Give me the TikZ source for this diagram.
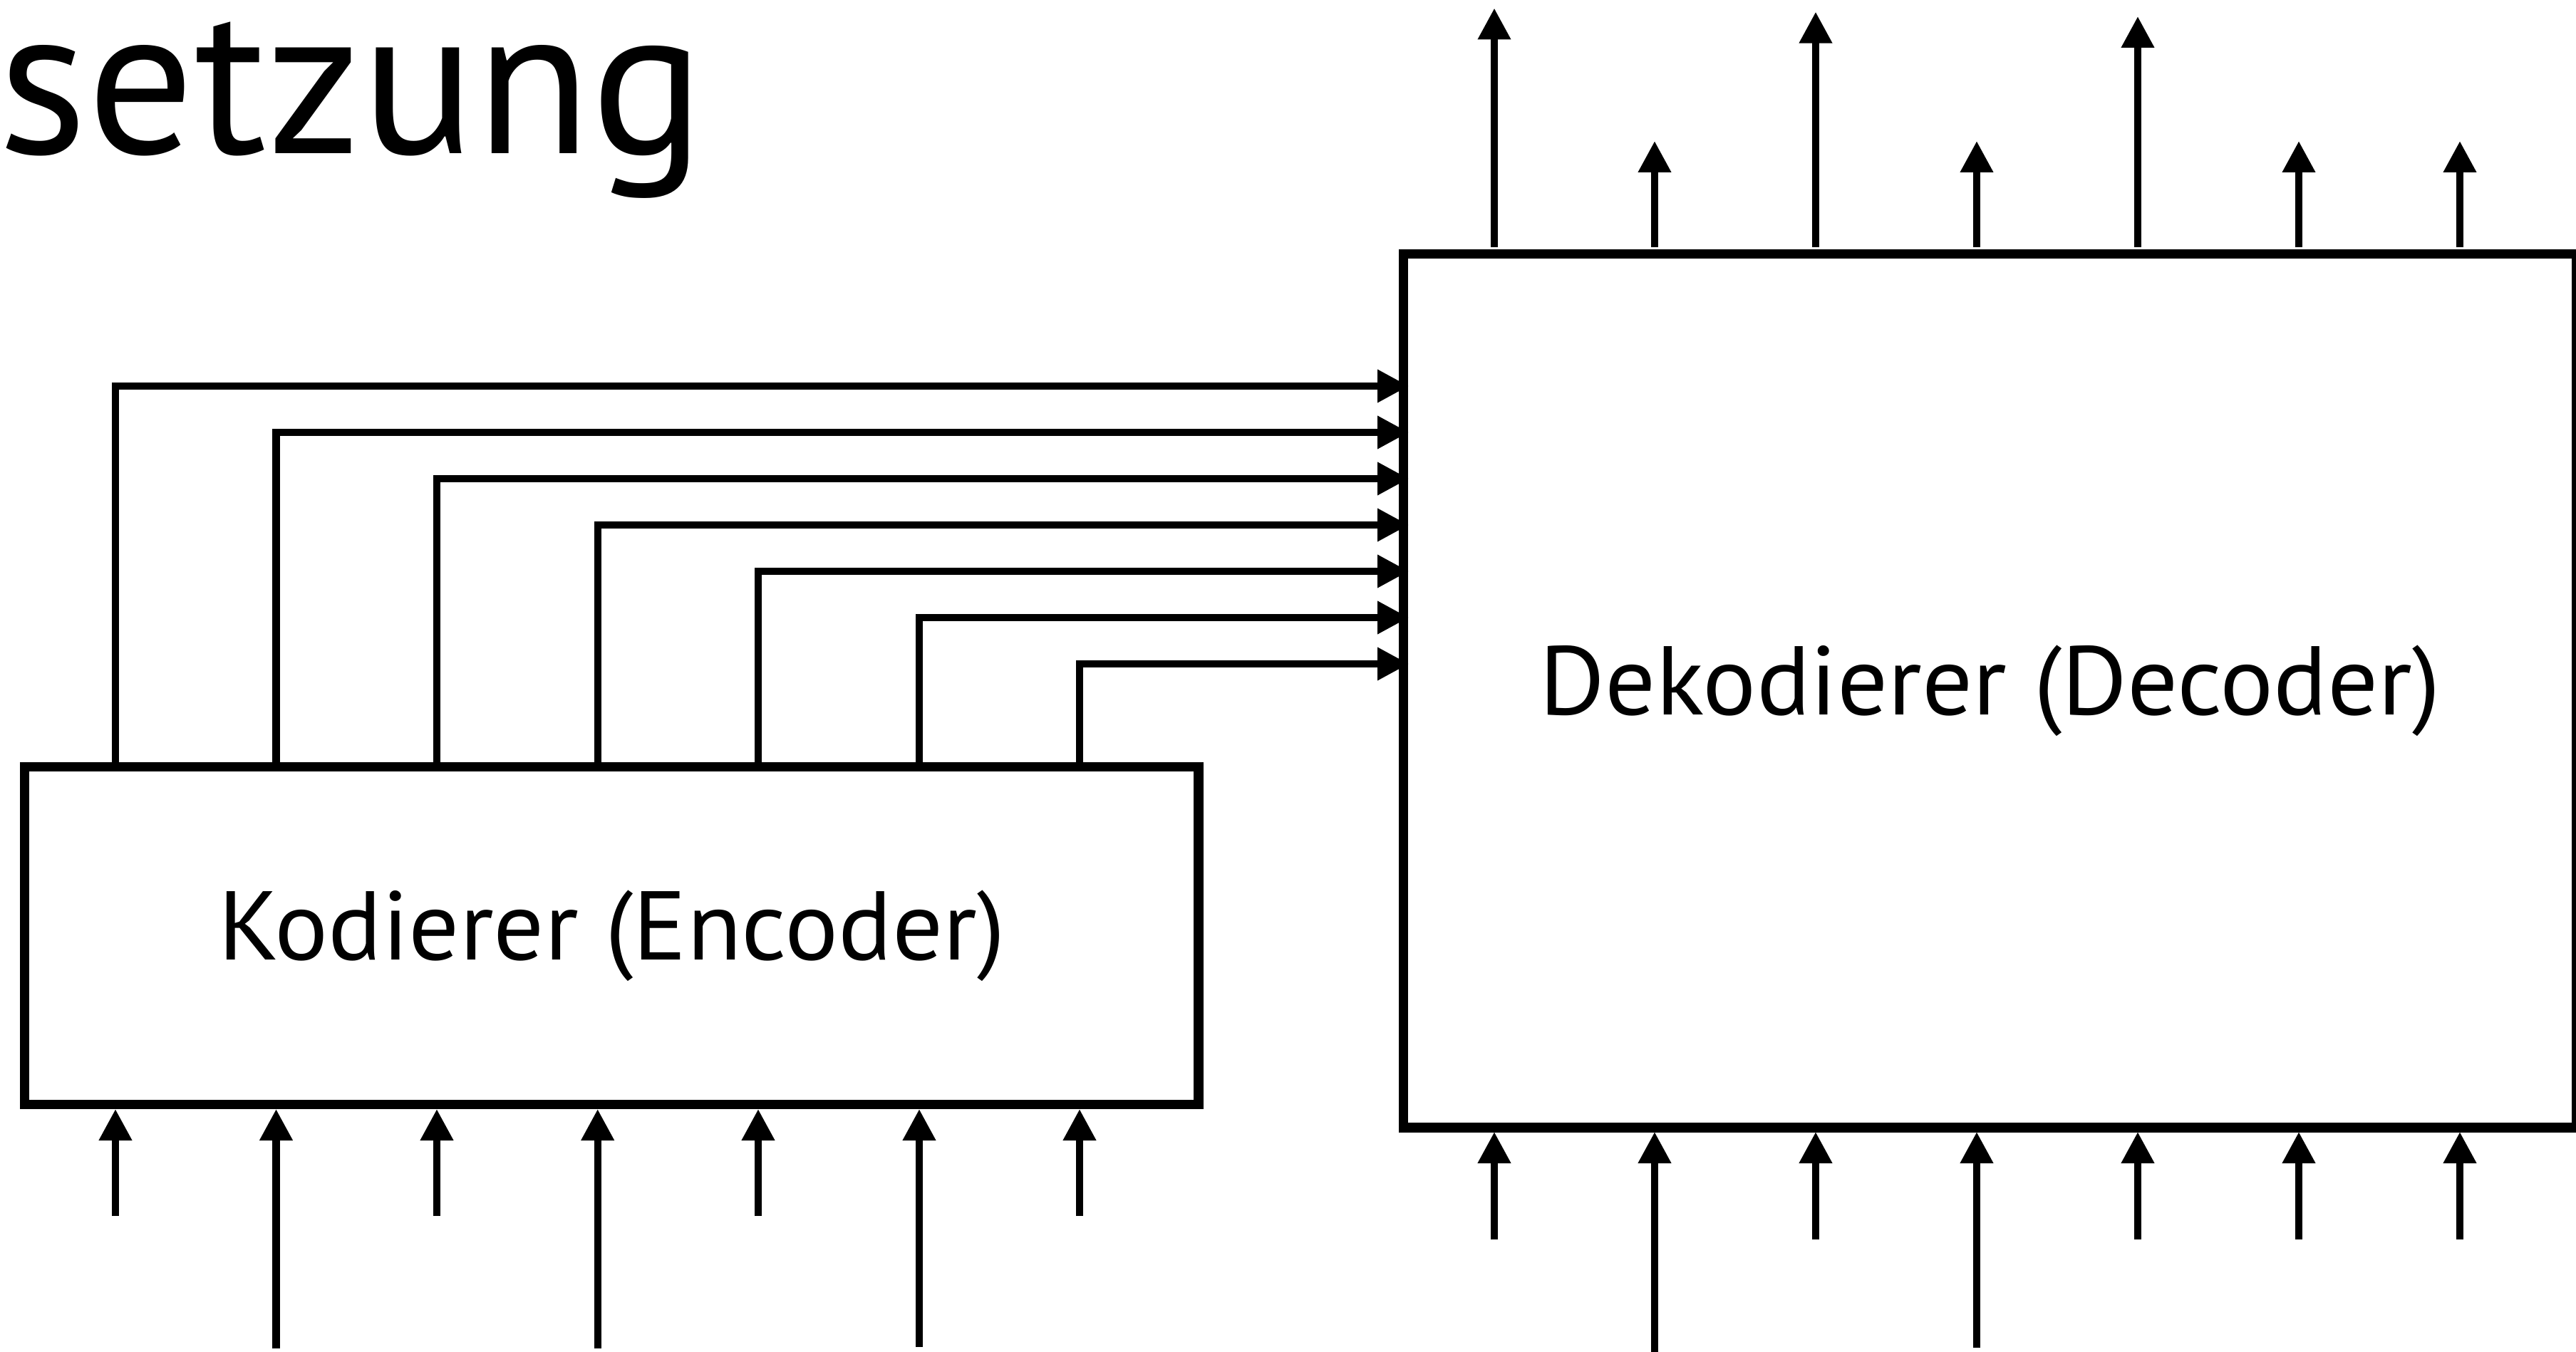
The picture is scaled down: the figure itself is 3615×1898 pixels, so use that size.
\documentclass[tikz,border=0pt]{standalone}
\usepackage{fontspec}
\setmainfont{PT Sans}
\usetikzlibrary{arrows.meta}
\tikzset{
  blockbox/.style={draw=black, line width=1.35mm, inner sep=0pt, fill=none},
  wire/.style={draw=black, line width=1.02mm, -{Triangle[length=4.4mm, width=4.4mm]}},
  lblfont/.style={font=\fontsize{39pt}{44pt}\selectfont},
}
\begin{document}
\begin{tikzpicture}[x=0.1mm, y=-0.1mm]
\useasboundingbox (0,0) rectangle (3615,1898);

% title (cropped word)
\node[anchor=base west, inner sep=0pt, font=\fontsize{84.5pt}{90pt}\selectfont] (title) at (-3,215.5) {setzung};

% blocks
\node[blockbox, minimum width=164.75mm, minimum height=47.4mm] (enc) at (858.25,1313.5) {};
\node[lblfont, inner sep=0pt] (enclbl) at (enc.center) {\scalebox{1.025}[1]{Kodierer (Encoder)}};
\node[blockbox, minimum width=164.65mm, minimum height=122.65mm] (dec) at (2792.75,969.75) {};
\node[lblfont, inner sep=0pt] (declbl) at (dec.center) {\scalebox{1.025}[1]{Dekodierer (Decoder)}};

% encoder outputs -> decoder inputs
\foreach \i/\x/\y in {1/162/542, 2/387.5/607, 3/613/672, 4/838.7/737, 5/1064/802, 6/1290/867, 7/1515/932} {
  \coordinate (eo\i) at (\x,1076.5);
  \coordinate (di\i) at (1977,\y);
  \draw[wire] (eo\i) |- (di\i);
}

% encoder inputs (from below)
\foreach \i/\x/\s in {1/162/1707, 2/387.5/1893, 3/613/1707, 4/838.7/1893, 5/1064/1707, 6/1290/1891, 7/1515/1707} {
  \coordinate (es\i) at (\x,\s);
  \coordinate (ei\i) at (\x,1557);
  \draw[wire] (es\i) -- (ei\i);
}

% decoder inputs (from below)
\foreach \i/\x/\s in {1/2097/1740, 2/2322/1898, 3/2548/1740, 4/2774/1892, 5/3000/1740, 6/3226/1740, 7/3452/1740} {
  \coordinate (ds\i) at (\x,\s);
  \coordinate (dk\i) at (\x,1589);
  \draw[wire] (ds\i) -- (dk\i);
}

% decoder outputs (upwards)
\foreach \i/\x/\t in {1/2097/11.5, 2/2322/198, 3/2548/16.6, 4/2774/198, 5/3000/23, 6/3226/198, 7/3452/198} {
  \coordinate (dt\i) at (\x,347);
  \coordinate (dq\i) at (\x,\t);
  \draw[wire] (dt\i) -- (dq\i);
}
\end{tikzpicture}
\end{document}
